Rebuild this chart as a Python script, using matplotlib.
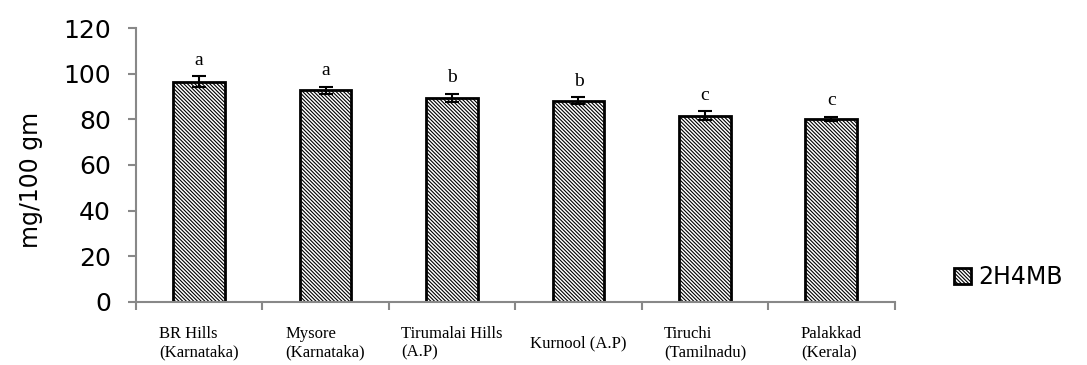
import numpy as np
import matplotlib.pyplot as plt
from matplotlib.transforms import blended_transform_factory

# values
sites = ["BR Hills\n(Karnataka)", "Mysore\n(Karnataka)", "Tirumalai Hills\n(A.P)",
         "Kurnool (A.P)", "Tiruchi\n(Tamilnadu)", "Palakkad\n(Kerala)"]
means = [96.5, 92.8, 89.5, 88.2, 81.5, 80.2]
errs = [2.3, 1.6, 1.7, 1.6, 2.0, 0.9]
letters = ["a", "a", "b", "b", "c", "c"]
series_name = "2H4MB"

plt.rcParams['hatch.linewidth'] = 0.8
plt.rcParams['hatch.color'] = '#333333'

fig = plt.figure(figsize=(10.87, 3.65), dpi=100)
ax = fig.add_axes([0.125, 0.173, 0.698, 0.750])

x = np.arange(len(sites))
bars = ax.bar(x, means, width=0.41, color='white', edgecolor='black',
              linewidth=2, hatch='\\' * 9, label=series_name, zorder=2)
ax.errorbar(x, means, yerr=errs, fmt='none', ecolor='black', elinewidth=1.5,
            capsize=5, capthick=1.5, zorder=3)

for xi, m, e, l in zip(x, means, errs, letters):
    ax.text(xi, m + e + 7, l, ha='center', va='center', fontsize=14,
            family='Liberation Serif')

ax.set_xlim(-0.5, len(sites) - 0.5)
ax.set_ylim(0, 120)
ax.set_yticks(range(0, 121, 20))
ax.set_xticks(np.arange(-0.5, len(sites), 1.0))
ax.set_xticklabels([])

trans = blended_transform_factory(ax.transData, ax.transAxes)
for xi, s in zip(x, sites):
    ax.text(xi, -0.15, s, transform=trans, ha='center', va='center',
            multialignment='left', fontsize=12, family='Liberation Serif',
            linespacing=1.2)

for side in ['top', 'right']:
    ax.spines[side].set_visible(False)
for side in ['left', 'bottom']:
    ax.spines[side].set_color('#888888')
    ax.spines[side].set_linewidth(1.5)
ax.tick_params(axis='both', direction='out', length=6, width=1.5, color='#888888')
ax.tick_params(axis='y', labelsize=18, pad=12)

ax.set_ylabel("mg/100 gm", fontsize=17)
ax.yaxis.set_label_coords(-0.122, 0.445)

fig.legend(handles=[bars], labels=[series_name], loc='center left',
           bbox_to_anchor=(0.878, 0.24), frameon=False, borderpad=0,
           borderaxespad=0, handlelength=0.7, handleheight=0.7,
           handletextpad=0.3, prop={'size': 17})

fig.savefig("out.png", dpi=100)
